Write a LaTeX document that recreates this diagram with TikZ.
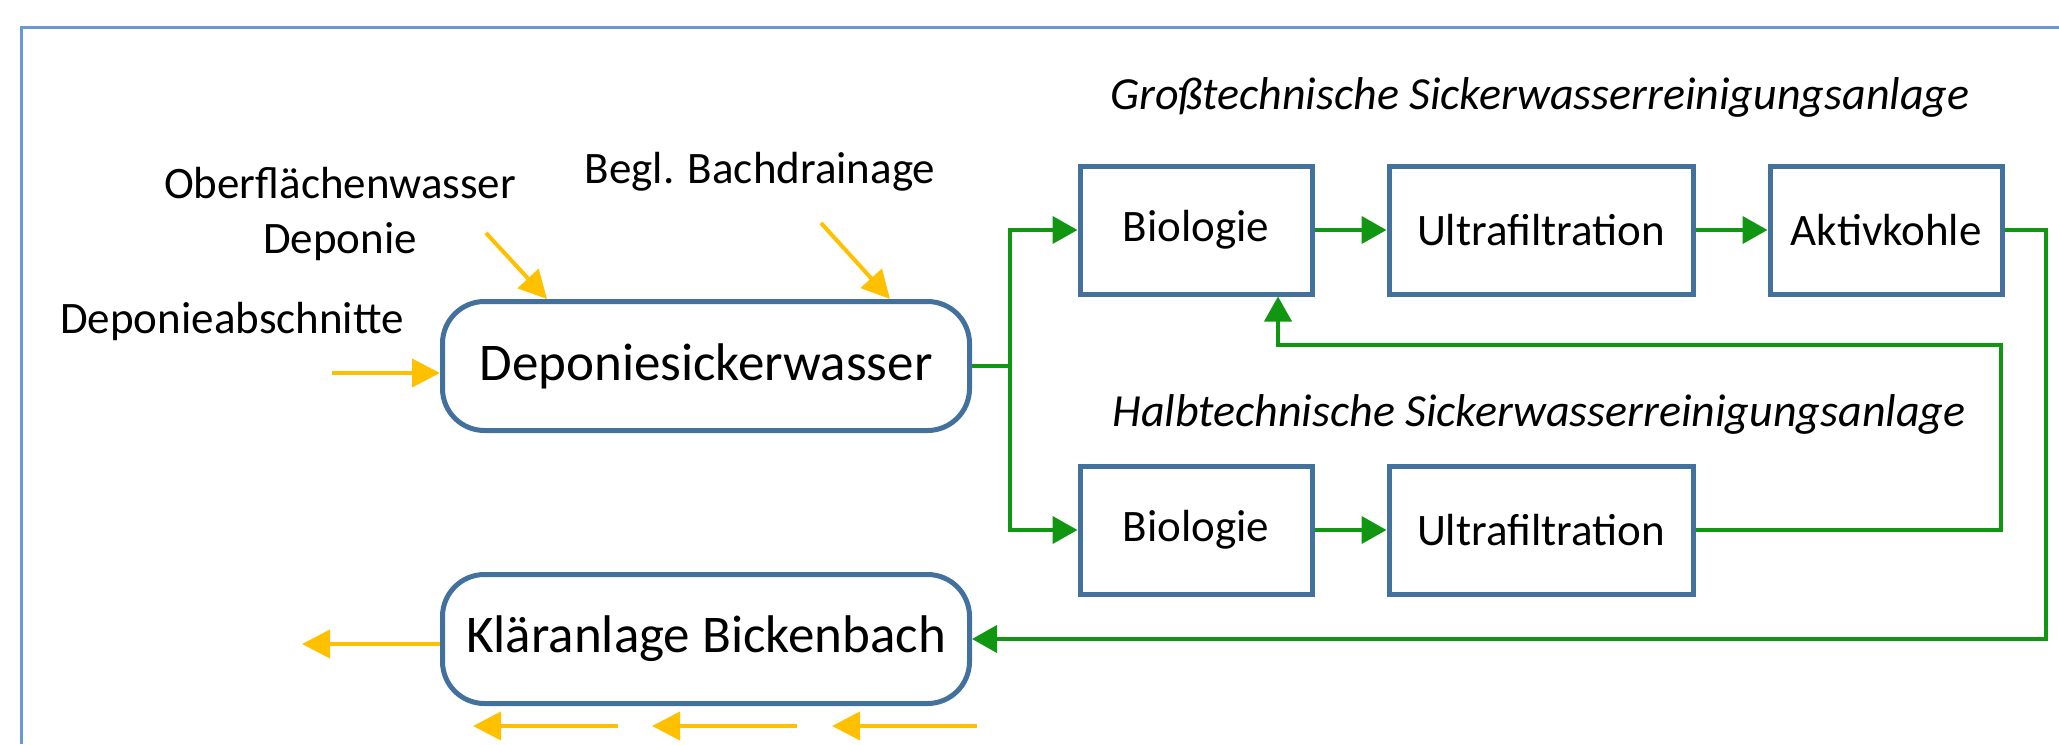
\documentclass[tikz,border=0pt]{standalone}
\usepackage{fontspec}
\setmainfont{Carlito}
\usetikzlibrary{positioning,arrows.meta}
\definecolor{boxblue}{RGB}{65,113,156}
\definecolor{frameblue}{RGB}{106,152,212}
\definecolor{flowgreen}{RGB}{16,150,16}
\definecolor{inyellow}{RGB}{255,192,0}

\begin{document}
\begin{tikzpicture}[x=0.5pt, y=-0.5pt, node distance=36pt,
    font=\fontsize{22.5}{27.5}\selectfont,
    proc/.style = {draw=boxblue, line width=2.5pt, minimum height=64pt},
    small/.style = {proc, minimum width=116pt},
    wide/.style = {proc, minimum width=152pt},
    tank/.style = {draw=boxblue, line width=2.5pt, rounded corners=21pt, minimum width=263.5pt, minimum height=64.5pt, font=\fontsize{26.5}{30}\selectfont},
    title/.style = {font=\fontsize{23}{27.5}\selectfont\itshape},
    flow/.style = {draw=flowgreen, line width=2pt, -{Triangle[length=12.5pt,width=13.5pt]}},
    inflow/.style = {draw=inyellow, line width=2pt, -{Triangle[length=14pt,width=14pt]}}]
    \useasboundingbox (0,0) rectangle (2059,744);
    \draw[frameblue, line width=1.5pt] (21,744) -- (21,27) -- (2059,27);

    \node[tank] (dep) at (706,366) {Deponiesickerwasser};
    \node[tank] (klaer) [below=69.5pt of dep] {Kläranlage Bickenbach};

    \node[small] (bio1) at (1196,230) {Biologie};
    \node[wide] (ultra1) [right=of bio1] {Ultrafiltration};
    \node[small] (aktiv) [right=of ultra1] {Aktivkohle};
    \node[small] (bio2) at (1196,530) {Biologie};
    \node[wide] (ultra2) [right=of bio2] {Ultrafiltration};

    \node[title] (gross) at (1540,97) {Großtechnische Sickerwasserreinigungsanlage};
    \node[title] (halb) at (1539,414) {Halbtechnische Sickerwasserreinigungsanlage};

    \node[align=center] (oberfl) at (340,214) {Oberflächenwasser\\Deponie};
    \node (bach) at (760,172) {Begl. Bachdrainage};
    \node (abschn) at (232,321) {Deponieabschnitte};

    \coordinate (split) at (1010,366);
    \coordinate (ret) at (2001,345);
    \coordinate (o1) at (486,233);
    \coordinate (b1) at (821,223);
    \coordinate (a1) at (332,373);
    \coordinate (out) at (302,644);

    \draw[flow, -] (dep.east) -- (split);
    \draw[flow] (split) |- (bio1);
    \draw[flow] (split) |- (bio2);
    \draw[flow] (bio1) -- (ultra1);
    \draw[flow] (ultra1) -- (aktiv);
    \draw[flow] (bio2) -- (ultra2);
    \draw[flow] (ultra2.east) -| (ret) -| ([xshift=41pt]bio1.south);
    \draw[flow] (aktiv.east) -- ++(41,0) |- (klaer.east);

    \draw[inflow] (o1) -- ([xshift=-79.5pt]dep.north);
    \draw[inflow] (b1) -- ([xshift=92pt]dep.north);
    \draw[inflow] (a1) -- ([yshift=-3.5pt]dep.west);
    \draw[inflow] ([yshift=-2.5pt]klaer.west) -- (out);
    \foreach \x [count=\i] in {618,797,977} {
        \coordinate (r\i) at (\x,726);
        \draw[inflow] (r\i) -- ++(-145,0);
    }
\end{tikzpicture}
\end{document}
